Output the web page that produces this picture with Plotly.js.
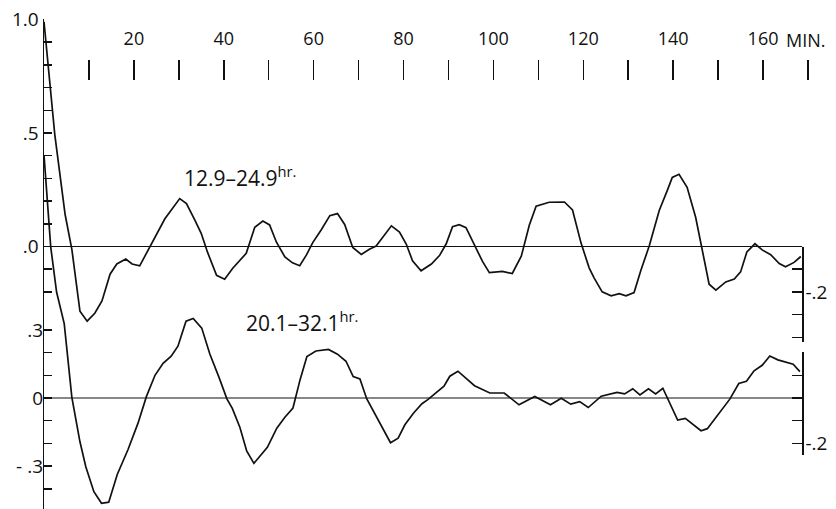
<!DOCTYPE html>
<html>
<head>
<meta charset="utf-8">
<script src="https://cdn.plot.ly/plotly-3.0.1.min.js"></script>
<style>
  html, body { margin: 0; padding: 0; background: #fff; }
  #chart { width: 836px; height: 509px; }
</style>
</head>
<body>
<div id="chart"></div>
<script>
// ---- data (lag in minutes, autocorrelation) ----
const seriesTopName = "12.9–24.9";
const seriesBotName = "20.1–32.1";

const lagsTop = [0,2.4,4.7,6.2,8.0,9.6,11.3,12.9,14.7,16.2,18.2,19.6,21.3,23.9,26.9,30.2,31.7,33.6,35.0,36.4,38.4,40.2,42.0,45.0,45.8,46.9,48.7,50.2,51.7,53.6,55.3,56.9,58.4,59.8,61.7,63.6,65.3,66.9,68.7,70.6,72.4,73.9,77.3,79.1,80.6,82.0,83.9,86.2,88.0,89.5,90.9,92.4,93.9,95.8,97.6,99.1,102.0,104.2,106.2,108.0,109.5,112.4,115.8,117.6,119.5,121.3,122.4,124.2,126.2,128.0,129.5,131.3,132.8,134.7,136.9,138.7,139.8,141.3,143.1,145.0,146.4,148.0,149.5,151.7,153.6,155.0,156.4,158.2,159.8,161.7,163.6,165.0,166.9,168.4];
const valsTop = [0.99,0.493,0.141,-0.013,-0.285,-0.329,-0.294,-0.24,-0.122,-0.077,-0.055,-0.077,-0.085,0.011,0.122,0.211,0.189,0.115,0.057,-0.026,-0.127,-0.144,-0.096,-0.03,0.015,0.085,0.112,0.095,0.02,-0.046,-0.072,-0.085,-0.037,0.017,0.074,0.136,0.145,0.097,-0.004,-0.035,-0.012,0.002,0.091,0.064,0.011,-0.063,-0.107,-0.077,-0.04,0.012,0.087,0.096,0.083,0.005,-0.067,-0.115,-0.11,-0.119,-0.043,0.095,0.178,0.195,0.196,0.161,0.015,-0.094,-0.138,-0.2,-0.217,-0.208,-0.217,-0.203,-0.106,0.004,0.159,0.247,0.304,0.318,0.261,0.129,-0.003,-0.166,-0.192,-0.156,-0.143,-0.112,-0.024,0.012,-0.015,-0.036,-0.075,-0.089,-0.07,-0.044];

const lagsBot = [0,1.5,2.8,4.5,6.2,8.0,9.3,11.1,12.8,14.4,16.3,18.7,20.9,22.8,24.7,26.5,28.3,29.8,31.6,33.2,35.1,36.9,38.9,40.7,41.9,43.6,45.1,46.7,49.7,51.8,53.6,55.4,57.0,58.5,60.5,63.3,65.3,67.2,68.8,70.3,71.8,74.8,77.1,78.8,80.3,82.2,84.1,85.4,89.0,90.3,92.1,95.8,99.2,102.4,105.7,109.2,112.7,115.1,117.2,119.2,121.1,124.0,127.5,129.2,131.0,132.6,134.5,136.1,137.7,141.0,142.7,146.2,147.6,152.6,154.6,156.3,158.0,159.8,161.5,163.3,166.7,168.2];
const valsBot = [1.07,0.665,0.467,0.328,0.003,-0.193,-0.303,-0.413,-0.464,-0.459,-0.337,-0.227,-0.112,0.007,0.1,0.153,0.184,0.228,0.338,0.35,0.308,0.194,0.093,-0.004,-0.046,-0.13,-0.233,-0.288,-0.217,-0.133,-0.085,-0.044,0.082,0.183,0.207,0.214,0.193,0.162,0.094,0.084,-0.003,-0.111,-0.197,-0.177,-0.118,-0.067,-0.025,-0.007,0.052,0.096,0.118,0.054,0.022,0.022,-0.03,0.007,-0.03,-0.001,-0.027,-0.016,-0.042,0.008,0.025,0.018,0.041,0.014,0.041,0.018,0.043,-0.097,-0.09,-0.144,-0.135,-0.005,0.064,0.074,0.12,0.144,0.185,0.168,0.149,0.116];

const baseLags = [0, 168.7];
const baseVals = [0, 0];

// ---- tick labels (labelled major ticks, unlabelled minor ticks) ----
const xTickVals = [20,40,60,80,100,120,140,160];
const xTickText = ["20","40","60","80","100","120","140","160"];
const xMinorVals = [10,30,50,70,90,110,130,150,170];
const xUnitLabel = "MIN.";

const leftTopTickVals = [1.0,0.5,0];
const leftTopTickText = ["1.0",".5",".0"];
const leftTopMinor = [0.9,0.8,0.7,0.6,0.4,0.3,0.2,0.1,-0.1,-0.2];
const leftBotTickVals = [0.3,0,-0.3];
const leftBotTickText = [".3","0","- .3"];
const leftBotMinor = [0.2,0.1,-0.1,-0.2,-0.4];
const rightTopTickVals = [-0.2];
const rightTopTickText = ["-.2"];
const rightTopMinor = [-0.1,-0.3,-0.4];
const rightBotTickVals = [-0.2];
const rightBotTickText = ["-.2"];
const rightBotMinor = [0.2,0.1,0,-0.1];

// ---- geometry (pixels) ----
const W = 836, H = 509;
const mL = 44, mR = 28, mT = 19, mB = 0;
const plotH = H - mT - mB;
const PXU = 227;          // pixels per unit of correlation
const zeroTopPx = 246.5;  // vertical pixel of upper baseline
const zeroBotPx = 398;    // vertical pixel of lower baseline
const frac = py => (H - mB - py) / plotH;
const rng = (zeroPx) => [(zeroPx - (H - mB)) / PXU, (zeroPx - mT) / PXU];

const FONT = "'Open Sans', 'DejaVu Sans', sans-serif";
const INK = "#111";
const lineStyle = {color: INK, width: 1.7, shape: 'linear'};

const traces = [
  {x: lagsTop, y: valsTop, xaxis: 'x', yaxis: 'y', mode: 'lines', line: lineStyle, name: seriesTopName},
  {x: lagsBot, y: valsBot, xaxis: 'x', yaxis: 'y2', mode: 'lines', line: lineStyle, name: seriesBotName},
  {x: baseLags, y: baseVals, xaxis: 'x', yaxis: 'y', mode: 'lines', line: {color: INK, width: 1.2}},
  {x: baseLags, y: baseVals, xaxis: 'x', yaxis: 'y2', mode: 'lines', line: {color: INK, width: 1.2}},
  {x: [], y: [], xaxis: 'x', yaxis: 'y3', mode: 'lines'},
  {x: [], y: [], xaxis: 'x', yaxis: 'y4', mode: 'lines'}
];

const tickFont = {family: FONT, size: 19, color: INK};
function yAxisBase(len, minorVals) {
  return {
    showgrid: false, zeroline: false, fixedrange: true,
    ticks: 'inside', ticklen: len, tickwidth: 1.5, tickcolor: INK,
    tickfont: tickFont, tickmode: 'array',
    minor: {tickmode: 'array', tickvals: minorVals, ticks: 'inside', ticklen: len, tickwidth: 1.5, tickcolor: INK, showgrid: false}
  };
}

const topTopPx = zeroTopPx, topBotPx = zeroTopPx + 0.42 * PXU;
const botTopPx = zeroBotPx - 0.203 * PXU, botBotPx = zeroBotPx + 0.251 * PXU;
const rightPos = (168.7 / 170);

const layout = {
  width: W, height: H,
  margin: {l: mL, r: mR, t: mT, b: mB, pad: 0},
  paper_bgcolor: '#fff', plot_bgcolor: 'rgba(0,0,0,0)',
  showlegend: false,
  font: {family: FONT, color: INK},
  xaxis: {
    range: [0, 170], side: 'top', anchor: 'free', position: frac(80),
    showline: false, showgrid: false, zeroline: false, fixedrange: true,
    ticks: 'outside', ticklen: 20, tickwidth: 1.5, tickcolor: INK,
    tickmode: 'array', tickvals: xTickVals, ticktext: xTickText,
    tickfont: {family: FONT, size: 18, color: INK},
    ticklabelstandoff: 8,
    minor: {tickmode: 'array', tickvals: xMinorVals, ticks: 'outside', ticklen: 20, tickwidth: 1.5, tickcolor: INK, showgrid: false}
  },
  yaxis: Object.assign(yAxisBase(8, leftTopMinor), {
    range: rng(zeroTopPx), domain: [0, 1], side: 'left', anchor: 'x',
    showline: true, linecolor: INK, linewidth: 1.5,
    tickvals: leftTopTickVals, ticktext: leftTopTickText
  }),
  yaxis2: Object.assign(yAxisBase(8, leftBotMinor), {
    range: rng(zeroBotPx), overlaying: 'y', side: 'left', anchor: 'x',
    showline: false,
    tickvals: leftBotTickVals, ticktext: leftBotTickText
  }),
  yaxis3: Object.assign(yAxisBase(10, rightTopMinor), {
    range: [-0.42, 0], domain: [frac(topBotPx), frac(topTopPx)],
    side: 'right', anchor: 'free', position: rightPos,
    showline: true, linecolor: INK, linewidth: 1.5,
    tickvals: rightTopTickVals, ticktext: rightTopTickText, ticklabelstandoff: -2
  }),
  yaxis4: Object.assign(yAxisBase(10, rightBotMinor), {
    range: [-0.251, 0.203], domain: [frac(botBotPx), frac(botTopPx)],
    side: 'right', anchor: 'free', position: rightPos,
    showline: true, linecolor: INK, linewidth: 1.5,
    tickvals: rightBotTickVals, ticktext: rightBotTickText, ticklabelstandoff: -2
  }),
  annotations: [
    {text: seriesTopName + "<sup>hr.</sup>", xref: 'x', yref: 'y', x: 30.6, y: 0.31,
     xanchor: 'left', yanchor: 'middle', showarrow: false,
     font: {family: FONT, size: 21, color: INK}},
    {text: seriesBotName + "<sup>hr.</sup>", xref: 'x', yref: 'y2', x: 44.5, y: 0.335,
     xanchor: 'left', yanchor: 'middle', showarrow: false,
     font: {family: FONT, size: 21, color: INK}},
    {text: xUnitLabel, xref: 'x', yref: 'paper', x: 164.6, y: frac(40),
     xanchor: 'left', yanchor: 'middle', showarrow: false,
     font: {family: FONT, size: 18, color: INK}}
  ]
};

Plotly.newPlot('chart', traces, layout, {staticPlot: true, displayModeBar: false});
</script>
</body>
</html>
